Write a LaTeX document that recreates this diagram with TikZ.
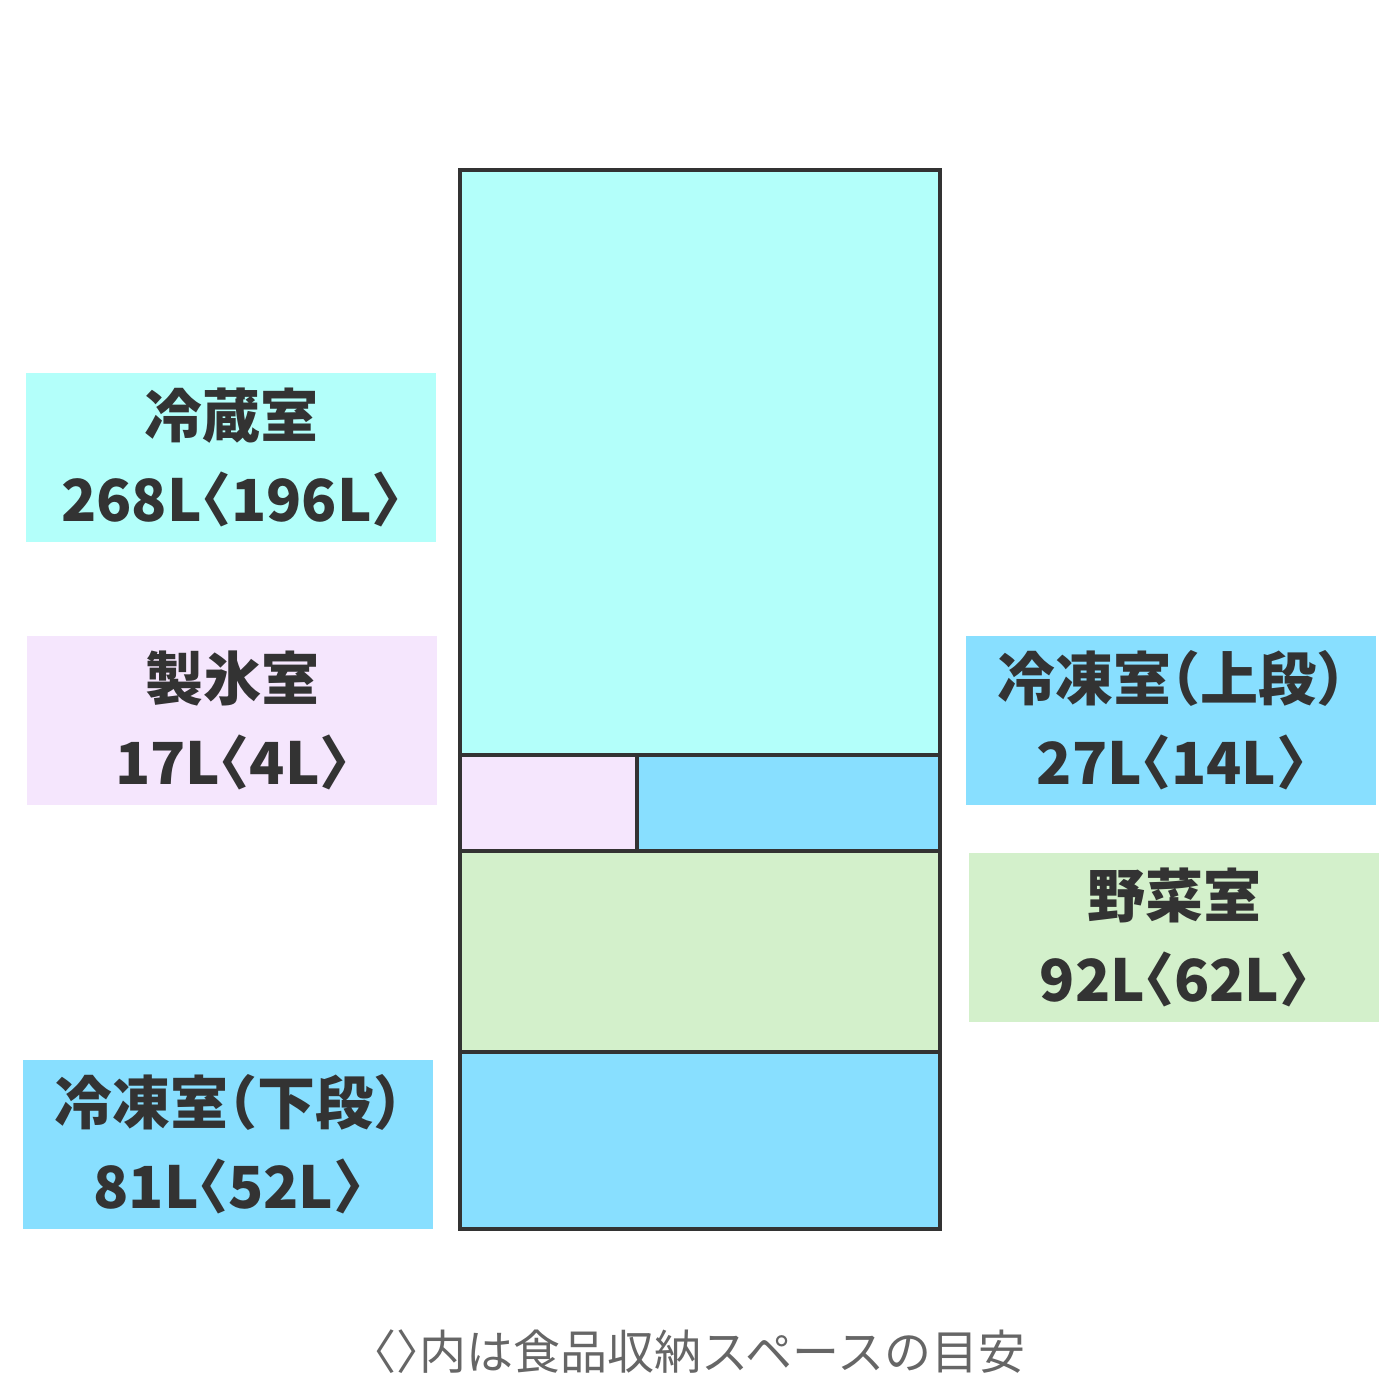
\documentclass[tikz,border=0pt]{standalone}
\usepackage{fontspec}
\setmainfont{Noto Sans CJK JP}[RawFeature=+halt]
\definecolor{edge}{HTML}{333333}
\definecolor{fridgecol}{HTML}{B3FFFA}
\definecolor{icecol}{HTML}{F5E6FD}
\definecolor{freezecol}{HTML}{88DFFF}
\definecolor{vegcol}{HTML}{D3F0CB}
\definecolor{notecol}{HTML}{666666}
\begin{document}
\begin{tikzpicture}[x=1pt,y=-1pt,
		label/.style={rectangle,minimum width=410pt,minimum height=169pt,inner sep=0pt,align=center,
			text=edge,font=\fontsize{58}{84}\selectfont\bfseries},
		room/.style={draw=edge,line width=4pt}]
	\useasboundingbox [fill=white] (0,0) rectangle (1400,1400);
	% compartments
	\draw [room,fill=fridgecol] (460,170) rectangle (940,755);
	\draw [room,fill=icecol] (460,755) rectangle (637,851);
	\draw [room,fill=freezecol] (637,755) rectangle (940,851);
	\draw [room,fill=vegcol] (460,851) rectangle (940,1052);
	\draw [room,fill=freezecol] (460,1052) rectangle (940,1229);
	% labels
	\node (fridge) [label,fill=fridgecol] at (231,457) {冷蔵室\\268L〈196L〉};
	\node (ice) [label,fill=icecol] at (232,720) {製氷室\\17L〈4L〉};
	\node (upper) [label,fill=freezecol] at (1171,720) {冷凍室（上段）\\27L〈14L〉};
	\node (veg) [label,fill=vegcol] at (1174,937) {野菜室\\92L〈62L〉};
	\node (lower) [label,fill=freezecol] at (228,1144) {冷凍室（下段）\\81L〈52L〉};
	\node (note) [text=notecol,font=\fontsize{47}{50}\selectfont] at (699,1352) {〈〉内は食品収納スペースの目安};
\end{tikzpicture}
\end{document}
